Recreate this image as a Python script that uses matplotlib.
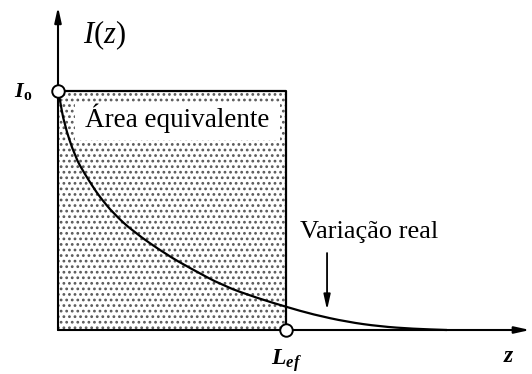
import matplotlib
matplotlib.use("Agg")
import matplotlib.pyplot as plt
from matplotlib.patches import Rectangle, PathPatch
from matplotlib.path import Path

plt.rcParams['font.family'] = ['Liberation Serif', 'DejaVu Serif']
plt.rcParams['mathtext.fontset'] = 'custom'
plt.rcParams['mathtext.rm'] = 'Liberation Serif'
plt.rcParams['mathtext.it'] = 'Liberation Serif:italic'
plt.rcParams['mathtext.bf'] = 'Liberation Serif:bold:italic'
plt.rcParams['mathtext.sf'] = 'Liberation Serif:bold'
plt.rcParams['hatch.linewidth'] = 1.2

# real intensity profile I(z)/Io, z in units of L_ef
z_real = [0, 0.009, 0.026, 0.075, 0.118, 0.154, 0.184, 0.241, 0.329, 0.478,
          0.579, 0.724, 0.873, 1.004, 1.118, 1.268, 1.412, 1.557, 1.706]
i_real = [1.0, 0.962, 0.866, 0.724, 0.652, 0.598, 0.556, 0.490, 0.412, 0.314,
          0.259, 0.185, 0.134, 0.096, 0.065, 0.034, 0.015, 0.005, 0.0]

I0 = 1.0
L_ef = 1.0


def smooth_path(xs, ys):
    # quadratic spline: points act as control points, joins at midpoints
    pts = list(zip(xs, ys))
    verts = [pts[0]]
    codes = [Path.MOVETO]
    for k in range(1, len(pts) - 1):
        mid = ((pts[k][0] + pts[k + 1][0]) / 2, (pts[k][1] + pts[k + 1][1]) / 2)
        verts += [pts[k], mid]
        codes += [Path.CURVE3, Path.CURVE3]
    verts.append(pts[-1])
    codes.append(Path.LINETO)
    return Path(verts, codes)


fig = plt.figure(figsize=(5.32, 3.74), dpi=100)
ax = fig.add_axes([0, 0, 1, 1])
ax.set_xlim(-0.2544, 2.0789)
ax.set_ylim(-0.1841, 1.3808)
ax.axis('off')

# equivalent rectangle, stippled
ax.add_patch(Rectangle((0, 0), L_ef, I0, facecolor='white', edgecolor='#5a5a5a',
                       hatch='...', lw=0, zorder=1))
ax.add_patch(Rectangle((0.075, 0.795), 0.899, 0.159, facecolor='white',
                       edgecolor='none', zorder=2))
ax.plot([0, L_ef, L_ef], [I0, I0, 0], color='black', lw=1.6, zorder=3)

# axes with arrows
arrow = dict(arrowstyle='-|>,head_length=0.9,head_width=0.2',
             color='black', lw=1.5, shrinkA=0, shrinkB=0)
ax.annotate('', xy=(0, 1.352), xytext=(0, 0), arrowprops=arrow, zorder=3)
ax.annotate('', xy=(2.07, 0), xytext=(0, 0), arrowprops=arrow, zorder=3)

ax.add_patch(PathPatch(smooth_path(z_real, i_real), facecolor='none',
                       edgecolor='black', lw=1.6, zorder=4))

ax.plot([0, L_ef], [I0, 0], linestyle='none', marker='o', ms=9, mfc='white',
        mec='black', mew=1.4, zorder=5)

# pointer to real curve
ax.annotate('', xy=(1.18, 0.084), xytext=(1.18, 0.322),
            arrowprops=dict(arrowstyle='-|>,head_length=0.9,head_width=0.2',
                            color='black', lw=1.3, shrinkA=0, shrinkB=0), zorder=3)

ax.text(0.522, 0.849, 'Área equivalente', fontsize=19.5, ha='center', va='baseline', zorder=6)
ax.text(1.061, 0.385, 'Variação real', fontsize=19, ha='left', va='baseline')
ax.text(0.108, 1.234, r'$I(z)$', fontsize=22, ha='left', va='center')
ax.text(-0.114, I0, r'$\mathbf{I}_{\mathsf{o}}$', fontsize=16, ha='right', va='center')
ax.text(L_ef, -0.145, r'$\mathbf{L}_{\mathbf{ef}}$', fontsize=17, ha='center', va='baseline')
ax.text(1.978, -0.134, r'$\mathbf{z}$', fontsize=17, ha='center', va='baseline')

fig.savefig('out.png', dpi=100)
